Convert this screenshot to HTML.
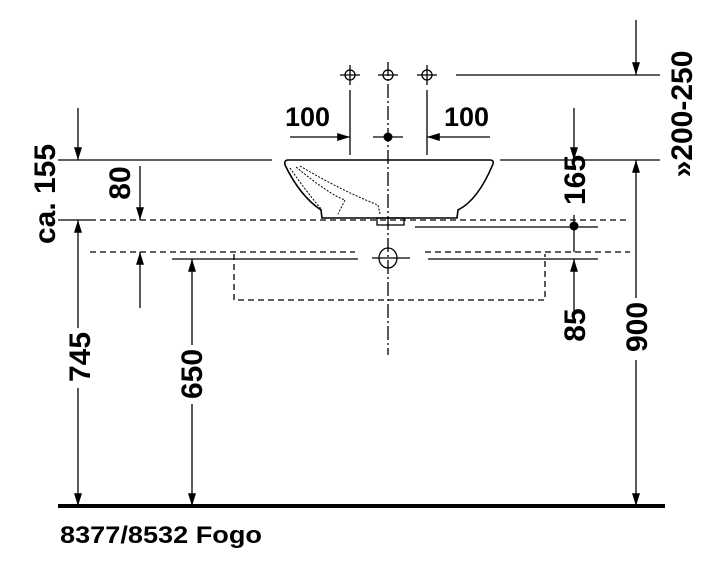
<!DOCTYPE html>
<html><head><style>html,body{margin:0;padding:0;background:#fff;width:720px;height:569px;overflow:hidden}svg{display:block}text{font-family:"Liberation Sans",sans-serif;font-weight:bold;fill:#000}</style></head>
<body>
<svg width="720" height="569" viewBox="0 0 720 569" xmlns="http://www.w3.org/2000/svg">
<defs>
<marker id="b" viewBox="0 0 16 10" refX="16" refY="5" markerWidth="16" markerHeight="8" markerUnits="userSpaceOnUse" orient="auto"><path d="M0,0 L16,5 L0,10 z" fill="#000"/></marker>
</defs>
<g stroke="#000" stroke-width="1.3" fill="none">
<line x1="58" y1="160" x2="272" y2="160"/>
<line x1="500" y1="160" x2="660" y2="160"/>
<line x1="456" y1="75" x2="660" y2="75"/>
<line x1="58" y1="220" x2="90" y2="220"/>
<line x1="90" y1="220" x2="630" y2="220" stroke-dasharray="6,4"/>
<line x1="415" y1="227" x2="598" y2="227"/>
<line x1="90" y1="252" x2="355" y2="252" stroke-dasharray="6,4"/>
<line x1="425" y1="252" x2="630" y2="252" stroke-dasharray="6,4"/>
<line x1="172" y1="259" x2="358" y2="259"/>
<line x1="428" y1="259" x2="598" y2="259"/>
<path d="M234,254 V300 H545 V254" stroke-dasharray="6,4"/>
<line x1="58" y1="506" x2="665" y2="506" stroke-width="4"/>
<line x1="388" y1="62" x2="388" y2="355" stroke-dasharray="14,3,2,3"/>
<circle cx="350" cy="75" r="5"/><line x1="340" y1="75" x2="360" y2="75"/><line x1="350" y1="65" x2="350" y2="85"/>
<circle cx="388" cy="75" r="5"/><line x1="378" y1="75" x2="398" y2="75"/>
<circle cx="427" cy="75" r="5"/><line x1="417" y1="75" x2="437" y2="75"/><line x1="427" y1="65" x2="427" y2="85"/>
<line x1="350" y1="90" x2="350" y2="155"/>
<line x1="427" y1="90" x2="427" y2="155"/>
<line x1="373" y1="137" x2="403" y2="137"/>
<line x1="290" y1="137" x2="350" y2="137" marker-end="url(#b)"/>
<line x1="490" y1="137" x2="427" y2="137" marker-end="url(#b)"/>
<ellipse cx="388" cy="258" rx="9" ry="10"/><line x1="372" y1="258" x2="410" y2="258"/>
<path d="M288,160 L490,160 Q494,160 493,164 Q478,200 458,210 L457,218 L322,218 L321,210 Q300,196 285,165 Q284,160 288,160 Z" stroke-width="1.6"/>
<path d="M290,168 Q305,190 322,210 M296,167 Q330,195 345,200 L338,214 M300,166 Q340,190 378,205 L380,214" stroke-dasharray="2,1.5" stroke-width="1"/>
<rect x="377" y="218" width="27" height="7"/>
<line x1="78" y1="108" x2="78" y2="160" marker-end="url(#b)"/>
<line x1="78" y1="328" x2="78" y2="220" marker-end="url(#b)"/>
<line x1="78" y1="388" x2="78" y2="506" marker-end="url(#b)"/>
<line x1="140" y1="166" x2="140" y2="220" marker-end="url(#b)"/>
<line x1="140" y1="308" x2="140" y2="252" marker-end="url(#b)"/>
<line x1="192" y1="345" x2="192" y2="259" marker-end="url(#b)"/>
<line x1="192" y1="404" x2="192" y2="506" marker-end="url(#b)"/>
<line x1="574" y1="108" x2="574" y2="160" marker-end="url(#b)"/>
<line x1="574" y1="215" x2="574" y2="252"/>
<line x1="574" y1="318" x2="574" y2="259" marker-end="url(#b)"/>
<line x1="636" y1="20" x2="636" y2="75" marker-end="url(#b)"/>
<line x1="636" y1="298" x2="636" y2="160" marker-end="url(#b)"/>
<line x1="636" y1="360" x2="636" y2="506" marker-end="url(#b)"/>
</g>
<circle cx="388" cy="137" r="4.5" fill="#000"/>
<circle cx="574" cy="226" r="4.5" fill="#000"/>
<g font-size="27">
<text x="285" y="126">100</text>
<text x="444" y="126">100</text>
</g>
<g font-size="30">
<text transform="translate(55,194) rotate(-90)" text-anchor="middle">ca. 155</text>
<text transform="translate(130,183) rotate(-90)" text-anchor="middle">80</text>
<text transform="translate(585,180) rotate(-90)" text-anchor="middle">165</text>
<text transform="translate(692,114) rotate(-90)" text-anchor="middle">»200-250</text>
<text transform="translate(90,357) rotate(-90)" text-anchor="middle">745</text>
<text transform="translate(202,374) rotate(-90)" text-anchor="middle">650</text>
<text transform="translate(585,325) rotate(-90)" text-anchor="middle">85</text>
<text transform="translate(647,327) rotate(-90)" text-anchor="middle">900</text>
</g>
<text x="60" y="543" font-size="24" textLength="202" lengthAdjust="spacingAndGlyphs">8377/8532 Fogo</text>
</svg>
</body></html>
